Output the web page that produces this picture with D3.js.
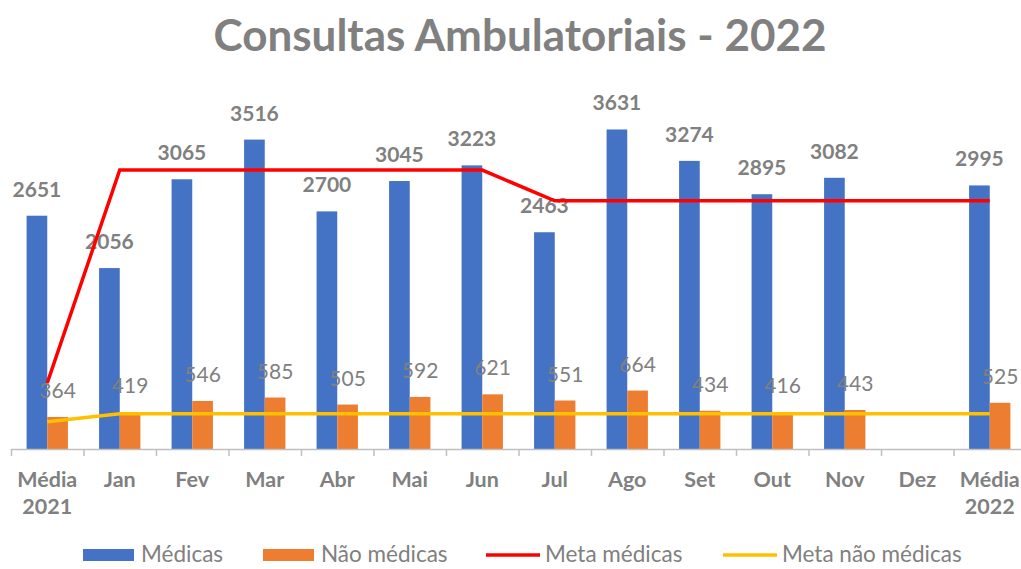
<!DOCTYPE html>
<html>
<head>
<meta charset="utf-8">
<script src="https://cdn.jsdelivr.net/npm/d3@7"></script>
<style>
  body { margin: 0; background: #fff; }
  text { font-family: Lato, "Open Sans", sans-serif; fill: #808080; }
</style>
</head>
<body>
<div id="chart"></div>
<script>
var categories = ["Média 2021", "Jan", "Fev", "Mar", "Abr", "Mai", "Jun", "Jul", "Ago", "Set", "Out", "Nov", "Dez", "Média 2022"];
var medicas    = [2651, 2056, 3065, 3516, 2700, 3045, 3223, 2463, 3631, 3274, 2895, 3082, null, 2995];
var naoMedicas = [364, 419, 546, 585, 505, 592, 621, 551, 664, 434, 416, 443, null, 525];
var metaMedicas    = [750, 3170, 3170, 3170, 3170, 3170, 3170, 2820, 2820, 2820, 2820, 2820, 2820, 2820];
var metaNaoMedicas = [310, 400, 400, 400, 400, 400, 400, 400, 400, 400, 400, 400, 400, 400];
var series = ["Médicas", "Não médicas", "Meta médicas", "Meta não médicas"];

var width = 1021, height = 569;
var color = {bar1: "#4472C4", bar2: "#ED7D31", meta1: "#FF0000", meta2: "#FFC000"};

var svg = d3.select("#chart").append("svg")
    .attr("width", width)
    .attr("height", height);

var x = d3.scaleBand().domain(categories).range([11, 1026]).paddingInner(0.43).paddingOuter(0.215),
    x1 = d3.scaleBand().domain([0, 1]).range([0, x.bandwidth()]),
    y = d3.scaleLinear().domain([0, 4000]).range([449, 97]);

svg.append("text")
    .attr("x", 520)
    .attr("y", 51)
    .attr("text-anchor", "middle")
    .style("font-size", "44px")
    .style("font-weight", "bold")
    .text("Consultas Ambulatoriais - 2022");

// bars
var rows = categories.map(function(c, i) { return {cat: c, vals: [medicas[i], naoMedicas[i]]}; });
var groups = svg.selectAll("g.cat")
    .data(rows)
  .enter().append("g")
    .attr("class", "cat")
    .attr("transform", function(d) { return "translate(" + x(d.cat) + ",0)"; });

groups.selectAll("rect")
    .data(function(d) { return d.vals.map(function(v, k) { return {k: k, v: v}; }).filter(function(e) { return e.v != null; }); })
  .enter().append("rect")
    .attr("x", function(d) { return x1(d.k); })
    .attr("width", x1.bandwidth())
    .attr("y", function(d) { return y(d.v); })
    .attr("height", function(d) { return y(0) - y(d.v); })
    .attr("fill", function(d) { return d.k == 0 ? color.bar1 : color.bar2; });

// axis: labels at centers, ticks on the boundaries
var xb = d3.scaleLinear().domain([0, categories.length]).range(x.range());
var ax = svg.append("g")
    .attr("transform", "translate(0," + y(0) + ")")
    .call(d3.axisBottom(xb).tickValues(d3.range(categories.length + 1)).tickFormat("").tickSize(7).tickSizeOuter(0));
ax.selectAll("path, line").attr("stroke", "#bfbfbf").attr("stroke-width", 1.5);

var lab = svg.append("g").selectAll("text")
    .data(categories)
  .enter().append("text")
    .attr("text-anchor", "middle")
    .style("font-size", "21.5px")
    .style("font-weight", "bold");
lab.each(function(d) {
  var parts = d.split(" ");
  d3.select(this).selectAll("tspan")
      .data(parts)
    .enter().append("tspan")
      .attr("x", x(d) + x.bandwidth() / 2)
      .attr("y", function(p, j) { return 487 + j * 27; })
      .text(function(p) { return p; });
});

// lines
var line = d3.line()
    .x(function(d, i) { return x(categories[i]) + x.bandwidth() / 2; })
    .y(function(d) { return y(d); });

svg.append("path")
    .attr("d", line(metaNaoMedicas))
    .attr("fill", "none")
    .attr("stroke", color.meta2)
    .attr("stroke-width", 3.5);

svg.append("path")
    .attr("d", line(metaMedicas))
    .attr("fill", "none")
    .attr("stroke", color.meta1)
    .attr("stroke-width", 3.5);

// data labels
groups.selectAll("text.v")
    .data(function(d) { return d.vals.map(function(v, k) { return {k: k, v: v}; }).filter(function(e) { return e.v != null; }); })
  .enter().append("text")
    .attr("class", "v")
    .attr("x", function(d) { return x1(d.k) + x1.bandwidth() / 2; })
    .attr("y", function(d) { return y(d.v) - 19; })
    .attr("text-anchor", "middle")
    .style("font-size", "21px")
    .style("font-weight", function(d) { return d.k == 0 ? "bold" : "normal"; })
    .text(function(d) { return d.v; });

// legend
var legX = [83, 263, 486, 723];
var leg = svg.selectAll("g.leg")
    .data(series)
  .enter().append("g")
    .attr("class", "leg")
    .attr("transform", function(d, i) { return "translate(" + legX[i] + ",0)"; });

leg.filter(function(d, i) { return i < 2; }).append("rect")
    .attr("y", 549)
    .attr("width", 51)
    .attr("height", 12)
    .attr("fill", function(d, i) { return i == 0 ? color.bar1 : color.bar2; });

leg.filter(function(d, i) { return i >= 2; }).append("line")
    .attr("x1", 0).attr("x2", 54)
    .attr("y1", 555).attr("y2", 555)
    .attr("stroke", function(d, i) { return i == 0 ? color.meta1 : color.meta2; })
    .attr("stroke-width", 3.5);

leg.append("text")
    .attr("x", function(d, i) { return i < 2 ? 58 : 59; })
    .attr("y", 562)
    .style("font-size", "22.5px")
    .text(function(d) { return d; });
</script>
</body>
</html>
